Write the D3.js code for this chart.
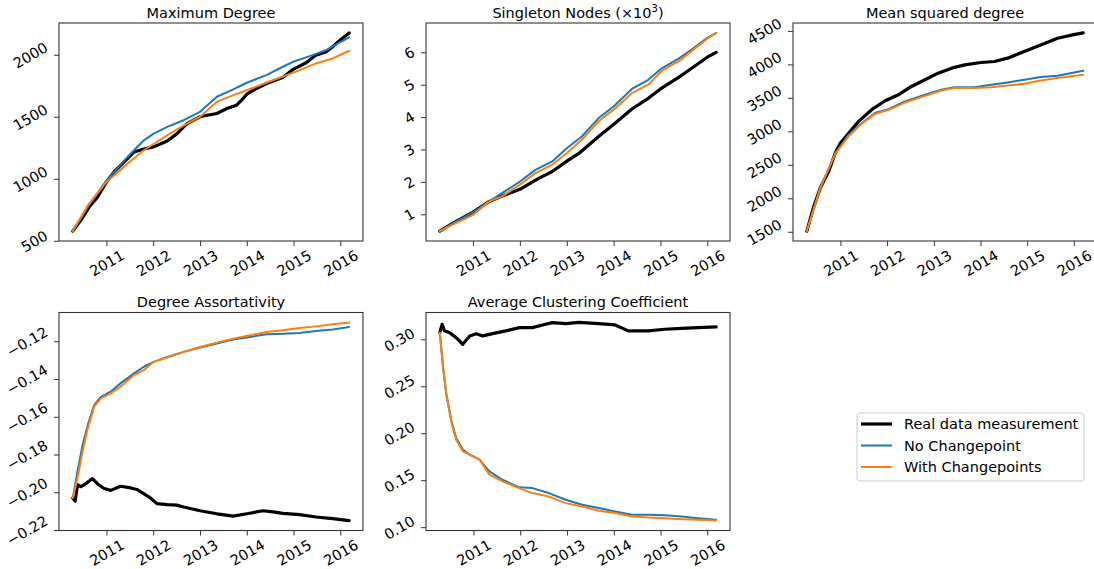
<!DOCTYPE html>
<html><head><meta charset="utf-8">
<script src="https://cdn.jsdelivr.net/npm/d3@7"></script>
<style>
body{margin:0;background:#fff}
svg{display:block}
text{font-family:"DejaVu Sans",sans-serif;fill:#000}
</style>
</head><body>
<svg id="chart" width="1094" height="569"></svg>
<script>
// ---------------- data (x = decimal year) ----------------
const xTickYears = [2011, 2012, 2013, 2014, 2015, 2016];
const seriesNames = ["Real data measurement", "No Changepoint", "With Changepoints"];

const maxDegReal = [[2010.28,578],[2010.45,665],[2010.63,772],[2010.81,853],[2011.00,974],[2011.16,1055],[2011.45,1162],[2011.59,1216],[2011.80,1240],[2012.01,1257],[2012.30,1305],[2012.51,1364],[2012.72,1445],[2013.00,1500],[2013.15,1512],[2013.36,1526],[2013.57,1566],[2013.78,1593],[2013.89,1634],[2014.00,1682],[2014.21,1728],[2014.42,1768],[2014.77,1817],[2014.99,1882],[2015.27,1935],[2015.48,1997],[2015.70,2024],[2015.84,2065],[2015.98,2113],[2016.19,2176]];
const maxDegNone = [[2010.28,578],[2010.60,772],[2011.00,987],[2011.45,1176],[2011.80,1310],[2012.01,1364],[2012.30,1418],[2012.65,1472],[2013.00,1540],[2013.36,1661],[2013.71,1720],[2014.00,1774],[2014.42,1836],[2014.77,1903],[2014.99,1943],[2015.41,1997],[2015.70,2038],[2015.98,2097],[2016.19,2140]];
const maxDegChange = [[2010.28,578],[2010.60,785],[2011.00,974],[2011.45,1122],[2011.80,1230],[2012.30,1351],[2012.72,1445],[2013.00,1500],[2013.36,1620],[2013.71,1674],[2014.00,1714],[2014.42,1774],[2014.85,1836],[2015.13,1876],[2015.48,1930],[2015.84,1970],[2016.19,2032]];

const singleReal = [[2010.29,0.48],[2010.56,0.72],[2010.96,1.03],[2011.34,1.39],[2011.69,1.60],[2012.00,1.77],[2012.40,2.11],[2012.69,2.32],[2013.04,2.68],[2013.25,2.87],[2013.68,3.40],[2014.03,3.81],[2014.39,4.25],[2014.74,4.58],[2015.00,4.87],[2015.38,5.22],[2015.66,5.50],[2016.00,5.85],[2016.19,6.00]];
const singleNone = [[2010.29,0.48],[2010.56,0.72],[2011.00,1.06],[2011.34,1.39],[2011.62,1.65],[2012.00,2.01],[2012.33,2.37],[2012.69,2.63],[2013.00,3.04],[2013.32,3.40],[2013.68,3.97],[2014.00,4.33],[2014.39,4.87],[2014.74,5.15],[2015.02,5.50],[2015.38,5.80],[2015.66,6.08],[2016.00,6.45],[2016.19,6.60]];
const singleChange = [[2010.29,0.48],[2010.56,0.67],[2011.00,0.98],[2011.34,1.39],[2011.62,1.55],[2012.00,1.91],[2012.33,2.27],[2012.69,2.53],[2013.00,2.89],[2013.32,3.30],[2013.68,3.87],[2014.00,4.23],[2014.39,4.74],[2014.74,5.00],[2015.02,5.42],[2015.38,5.72],[2015.66,6.03],[2016.00,6.42],[2016.19,6.60]];

const msdReal = [[2010.28,1510],[2010.43,1882],[2010.57,2156],[2010.75,2404],[2010.89,2677],[2011.00,2826],[2011.18,2975],[2011.39,3149],[2011.67,3323],[2011.96,3457],[2012.24,3546],[2012.52,3670],[2012.81,3770],[2013.09,3869],[2013.38,3944],[2013.66,3993],[2014.01,4028],[2014.30,4043],[2014.58,4093],[2014.94,4192],[2015.29,4291],[2015.65,4390],[2016.00,4445],[2016.20,4470]];
const msdNone = [[2010.28,1510],[2010.57,2156],[2010.89,2667],[2011.18,2950],[2011.46,3124],[2011.74,3273],[2012.03,3330],[2012.38,3447],[2012.81,3546],[2013.16,3620],[2013.45,3660],[2013.87,3660],[2014.23,3695],[2014.58,3730],[2014.94,3770],[2015.29,3810],[2015.65,3829],[2016.20,3904]];
const msdChange = [[2010.28,1510],[2010.57,2156],[2010.89,2667],[2011.18,2930],[2011.46,3115],[2011.74,3260],[2012.03,3320],[2012.38,3430],[2012.81,3530],[2013.16,3610],[2013.45,3646],[2013.87,3646],[2014.23,3660],[2014.58,3685],[2014.94,3710],[2015.29,3760],[2015.65,3795],[2016.20,3845]];

const assortReal = [[2010.28,-0.2030],[2010.33,-0.2047],[2010.38,-0.1960],[2010.45,-0.1970],[2010.53,-0.1960],[2010.63,-0.1940],[2010.70,-0.1928],[2010.81,-0.1956],[2010.95,-0.1980],[2011.09,-0.1990],[2011.30,-0.1968],[2011.52,-0.1977],[2011.65,-0.1985],[2011.94,-0.2030],[2012.08,-0.2060],[2012.30,-0.2065],[2012.50,-0.2068],[2012.65,-0.2078],[2013.00,-0.2098],[2013.36,-0.2114],[2013.71,-0.2126],[2014.00,-0.2114],[2014.25,-0.2102],[2014.35,-0.2098],[2014.60,-0.2105],[2014.77,-0.2112],[2015.13,-0.2118],[2015.48,-0.2131],[2015.84,-0.2140],[2016.19,-0.2150]];
const assortNone = [[2010.28,-0.2030],[2010.38,-0.1889],[2010.49,-0.1748],[2010.60,-0.1643],[2010.74,-0.1537],[2010.88,-0.1494],[2011.09,-0.1467],[2011.30,-0.1423],[2011.59,-0.1370],[2011.80,-0.1335],[2012.01,-0.1309],[2012.30,-0.1283],[2012.65,-0.1256],[2013.00,-0.1233],[2013.36,-0.1212],[2013.71,-0.1191],[2014.07,-0.1177],[2014.42,-0.1163],[2014.77,-0.1160],[2015.13,-0.1156],[2015.48,-0.1146],[2015.84,-0.1137],[2016.19,-0.1124]];
const assortChange = [[2010.28,-0.2030],[2010.38,-0.1924],[2010.49,-0.1783],[2010.60,-0.1660],[2010.74,-0.1546],[2010.88,-0.1502],[2011.09,-0.1476],[2011.30,-0.1441],[2011.59,-0.1379],[2011.80,-0.1353],[2012.01,-0.1309],[2012.30,-0.1286],[2012.65,-0.1256],[2013.00,-0.1230],[2013.36,-0.1207],[2013.71,-0.1186],[2014.07,-0.1168],[2014.42,-0.1151],[2014.77,-0.1142],[2015.13,-0.1130],[2015.48,-0.1121],[2015.84,-0.1110],[2016.19,-0.1100]];

const clusterReal = [[2010.28,0.3071],[2010.33,0.3160],[2010.38,0.3090],[2010.49,0.3070],[2010.63,0.3018],[2010.77,0.2947],[2010.92,0.3036],[2011.06,0.3060],[2011.20,0.3036],[2011.41,0.3060],[2011.69,0.3090],[2011.98,0.3125],[2012.26,0.3125],[2012.54,0.3160],[2012.69,0.3178],[2012.97,0.3167],[2013.25,0.3180],[2013.68,0.3167],[2014.03,0.3153],[2014.31,0.3090],[2014.74,0.3090],[2015.09,0.3107],[2015.45,0.3117],[2015.80,0.3125],[2016.19,0.3132]];
const clusterNone = [[2010.28,0.3070],[2010.35,0.2698],[2010.42,0.2413],[2010.53,0.2128],[2010.63,0.1950],[2010.77,0.1826],[2010.92,0.1772],[2011.13,0.1719],[2011.34,0.1594],[2011.62,0.1505],[2011.98,0.1424],[2012.26,0.1416],[2012.61,0.1363],[2012.97,0.1292],[2013.32,0.1238],[2013.68,0.1203],[2014.03,0.1167],[2014.39,0.1132],[2014.74,0.1132],[2015.09,0.1128],[2015.45,0.1114],[2015.80,0.1096],[2016.19,0.1078]];
const clusterChange = [[2010.28,0.3070],[2010.35,0.2698],[2010.42,0.2413],[2010.53,0.2110],[2010.63,0.1930],[2010.77,0.1808],[2010.92,0.1772],[2011.13,0.1719],[2011.34,0.1559],[2011.62,0.1488],[2011.98,0.1416],[2012.26,0.1363],[2012.61,0.1327],[2012.97,0.1256],[2013.32,0.1221],[2013.68,0.1174],[2014.03,0.1150],[2014.39,0.1114],[2014.74,0.1103],[2015.09,0.1096],[2015.45,0.1085],[2015.80,0.1078],[2016.19,0.1070]];

const maxDegTicks = [500, 1000, 1500, 2000];
const singleTicks = [1, 2, 3, 4, 5, 6];
const msdTicks = [1500, 2000, 2500, 3000, 3500, 4000, 4500];
const assortTicks = [-0.22, -0.20, -0.18, -0.16, -0.14, -0.12];
const clusterTicks = [0.10, 0.15, 0.20, 0.25, 0.30];

// ---------------- layout / style ----------------
const colors = ["#000000", "#1f77b4", "#ff7f0e"];
const widths = [3.2, 2, 2];
const FS = 14.5;
const W = 304, H = 218;
const fmtInt = d3.format("d");
const fmtDec = d => d3.format(".2f")(d).replace("-", "\u2212");

const panels = [
  {title: "Maximum Degree", pos: [59, 23], series: [maxDegReal, maxDegNone, maxDegChange], ticks: maxDegTicks, fmt: fmtInt},
  {title: null, pos: [426, 23], series: [singleReal, singleNone, singleChange], ticks: singleTicks, fmt: fmtInt},
  {title: "Mean squared degree", pos: [793, 23], series: [msdReal, msdNone, msdChange], ticks: msdTicks, fmt: fmtInt},
  {title: "Degree Assortativity", pos: [59, 312.5], series: [assortReal, assortNone, assortChange], ticks: assortTicks, fmt: fmtDec},
  {title: "Average Clustering Coefficient", pos: [426, 312.5], series: [clusterReal, clusterNone, clusterChange], ticks: clusterTicks, fmt: fmtDec}
];

function yd(y) {
  const yr = Math.floor(y);
  const s = Date.UTC(yr, 0, 1), e = Date.UTC(yr + 1, 0, 1);
  return new Date(s + (y - yr) * (e - s));
}

const svg = d3.select("#chart");
const capH = FS * 0.73;
const S30 = 0.5, C30 = Math.cos(Math.PI / 6);

panels.forEach((p, pi) => {
  const g = svg.append("g").attr("transform", `translate(${p.pos[0]},${p.pos[1]})`);
  const all = p.series.flat();
  const xe = d3.extent(all, d => yd(d[0]).getTime());
  const xp = (xe[1] - xe[0]) * 0.05;
  const ye = d3.extent(all, d => d[1]);
  const yp = (ye[1] - ye[0]) * 0.05;
  const x = d3.scaleUtc().domain([new Date(xe[0] - xp), new Date(xe[1] + xp)]).range([0, W]);
  const y = d3.scaleLinear().domain([ye[0] - yp, ye[1] + yp]).range([H, 0]);

  // lines
  const line = d3.line().x(d => x(yd(d[0]))).y(d => y(d[1]));
  p.series.forEach((s, si) => {
    g.append("path").datum(s).attr("d", line)
      .attr("fill", "none").attr("stroke", colors[si]).attr("stroke-width", widths[si])
      .attr("stroke-linejoin", "round").attr("stroke-linecap", "round");
  });

  // x axis
  const xa = g.append("g").attr("transform", `translate(0,${H})`)
    .call(d3.axisBottom(x).tickValues(xTickYears.map(v => new Date(Date.UTC(v, 0, 1))))
      .tickFormat(d3.utcFormat("%Y")).tickSize(5).tickPadding(5));
  xa.select(".domain").remove();
  xa.selectAll("line").attr("stroke", "#333").attr("stroke-width", 1);
  xa.selectAll("text").attr("font-size", FS).attr("font-family", "DejaVu Sans").attr("fill", "#000")
    .each(function () {
      const w = this.getComputedTextLength();
      const bh = S30 * w + C30 * capH;
      d3.select(this).attr("x", 0).attr("y", 0).attr("dy", "0.36em").attr("text-anchor", "middle")
        .attr("transform", `translate(0,${8.3 + bh / 2}) rotate(-30)`);
    });

  // y axis
  const ya = g.append("g")
    .call(d3.axisLeft(y).tickValues(p.ticks).tickFormat(p.fmt).tickSize(5).tickPadding(5));
  ya.select(".domain").remove();
  ya.selectAll("line").attr("stroke", "#333").attr("stroke-width", 1);
  ya.selectAll("text").attr("font-size", FS).attr("font-family", "DejaVu Sans").attr("fill", "#000")
    .each(function () {
      const w = this.getComputedTextLength();
      const bw = C30 * w + S30 * capH;
      d3.select(this).attr("x", 0).attr("y", 0).attr("dy", "0.36em").attr("text-anchor", "middle")
        .attr("transform", `translate(${-(10 + bw / 2)},0) rotate(-30)`);
    });

  // frame
  g.append("rect").attr("width", W).attr("height", H)
    .attr("fill", "none").attr("stroke", "#333").attr("stroke-width", 1.1);

  // title
  const t = g.append("text").attr("x", W / 2).attr("y", -5.5).attr("text-anchor", "middle").attr("font-size", FS);
  if (p.title) t.text(p.title);
  else {
    t.append("tspan").text("Singleton Nodes (\u00d710");
    t.append("tspan").attr("dy", -6).attr("font-size", 10).text("3");
    t.append("tspan").attr("dy", 6).text(")");
  }
});

// legend
const lg = svg.append("g").attr("transform", "translate(857,413)");
lg.append("rect").attr("width", 227).attr("height", 68).attr("rx", 3)
  .attr("fill", "#fff").attr("stroke", "#cccccc").attr("stroke-width", 1);
seriesNames.forEach((n, i) => {
  const yy = 11 + i * 21.5;
  lg.append("line").attr("x1", 4).attr("x2", 35).attr("y1", yy).attr("y2", yy)
    .attr("stroke", colors[i]).attr("stroke-width", widths[i]);
  lg.append("text").attr("x", 47).attr("y", yy).attr("dy", "0.36em").attr("font-size", FS).text(n);
});
</script>
</body></html>
